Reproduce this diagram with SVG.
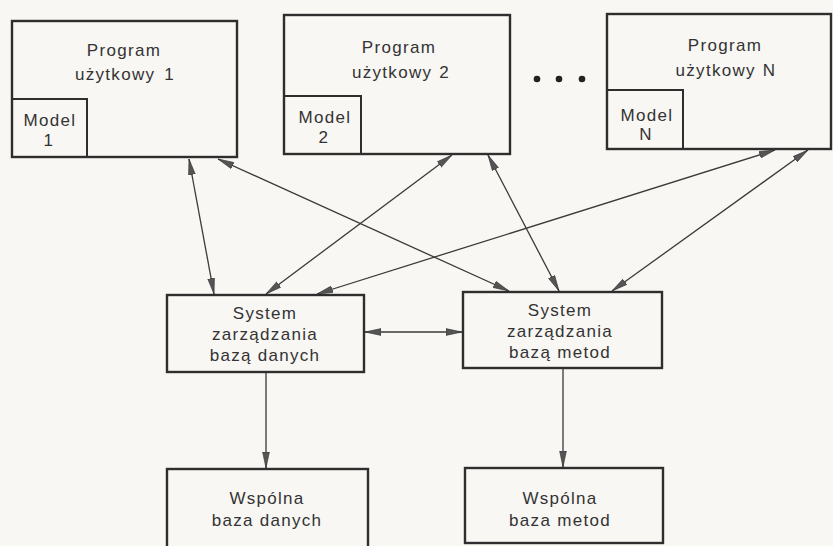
<svg xmlns="http://www.w3.org/2000/svg" width="833" height="546" viewBox="0 0 833 546">
  <style>
    .box { fill: none; stroke: #2e2e2e; stroke-width: 2.4; }
    .inner { fill: none; stroke: #2e2e2e; stroke-width: 2; }
    .lbl { font-family: "Liberation Sans", Arial, sans-serif; font-size: 17px; letter-spacing: 1.3px; fill: #333; text-anchor: middle; }
    .edge { fill: none; stroke: #3a3a3a; stroke-width: 1.3; marker-end: url(#head); }
    .both { marker-start: url(#head); }
  </style>
  <defs>
    <marker id="head" viewBox="0 0 16 8" refX="16" refY="4" markerWidth="16" markerHeight="8" markerUnits="userSpaceOnUse" orient="auto-start-reverse">
      <path d="M0,0.6 L16,4 L0,7.4 Z" fill="#555" stroke="#333" stroke-width="0.6"/>
    </marker>
  </defs>
  <rect width="833" height="546" fill="#f8f7f3"/>

  <g id="program1">
    <rect class="box" x="12" y="21" width="225" height="136"/>
    <path class="inner" d="M12,99 H87 V157"/>
    <text class="lbl" x="124" y="56">Program</text>
    <text class="lbl" x="125" y="80">użytkowy<tspan dx="9">1</tspan></text>
    <text class="lbl" x="50" y="126">Model</text>
    <text class="lbl" x="49" y="146">1</text>
  </g>

  <g id="program2">
    <rect class="box" x="284" y="15" width="226" height="139"/>
    <path class="inner" d="M284,96 H361 V154"/>
    <text class="lbl" x="399" y="53">Program</text>
    <text class="lbl" x="401" y="78">użytkowy<tspan dx="7">2</tspan></text>
    <text class="lbl" x="325" y="123">Model</text>
    <text class="lbl" x="324" y="143">2</text>
  </g>

  <g id="ellipsis">
    <circle cx="537" cy="79" r="3.3" fill="#222"/>
    <circle cx="559" cy="79" r="3.3" fill="#222"/>
    <circle cx="582" cy="79" r="3.3" fill="#222"/>
  </g>

  <g id="programN">
    <rect class="box" x="607" y="14" width="224" height="135"/>
    <path class="inner" d="M607,90 H683 V149"/>
    <text class="lbl" x="725" y="51">Program</text>
    <text class="lbl" x="726" y="76">użytkowy<tspan dx="7">N</tspan></text>
    <text class="lbl" x="647" y="121">Model</text>
    <text class="lbl" x="646" y="140">N</text>
  </g>

  <g id="dbms">
    <rect class="box" x="167" y="295" width="197" height="77"/>
    <text class="lbl" x="265" y="319">System</text>
    <text class="lbl" x="265" y="340">zarządzania</text>
    <text class="lbl" x="265" y="361">bazą danych</text>
  </g>

  <g id="mbms">
    <rect class="box" x="463" y="292" width="199" height="76"/>
    <text class="lbl" x="560" y="316">System</text>
    <text class="lbl" x="560" y="337">zarządzania</text>
    <text class="lbl" x="560" y="358">bazą metod</text>
  </g>

  <g id="shared-db">
    <rect class="box" x="167" y="469" width="201" height="80"/>
    <text class="lbl" x="267" y="504">Wspólna</text>
    <text class="lbl" x="267" y="526">baza danych</text>
  </g>

  <g id="shared-methods">
    <rect class="box" x="465" y="468" width="198" height="75"/>
    <text class="lbl" x="560" y="504">Wspólna</text>
    <text class="lbl" x="560" y="526">baza metod</text>
  </g>

  <g id="connectors">
    <!-- programs to database management system -->
    <line class="edge both" x1="189" y1="159" x2="214" y2="294"/>
    <line class="edge both" x1="452" y1="155" x2="266" y2="294"/>
    <line class="edge both" x1="775" y1="150" x2="317" y2="294"/>
    <!-- programs to method base management system -->
    <line class="edge both" x1="218" y1="159" x2="509" y2="291"/>
    <line class="edge both" x1="488" y1="155" x2="559" y2="291"/>
    <line class="edge both" x1="808" y1="150" x2="612" y2="291"/>
    <!-- between the two management systems -->
    <line class="edge both" x1="365" y1="332" x2="462" y2="332"/>
    <!-- down to the shared stores -->
    <line class="edge" x1="266" y1="373" x2="266" y2="468"/>
    <line class="edge" x1="563" y1="369" x2="563" y2="467"/>
  </g>
</svg>
